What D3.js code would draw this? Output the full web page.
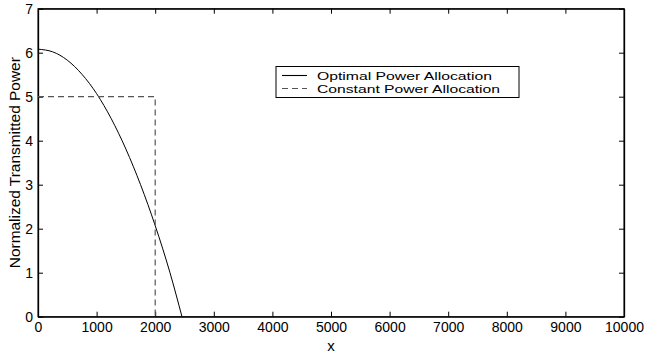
<!DOCTYPE html>
<html><head><meta charset="utf-8">
<script src="https://cdn.jsdelivr.net/npm/d3@7"></script>
<style>body{margin:0;background:#fff}svg{display:block}text{font-family:"Liberation Sans",Arial,sans-serif}</style>
</head><body><svg id="c" width="647" height="356"></svg>
<script>
const optX = [0, 250, 500, 750, 1000, 1250, 1500, 1750, 2000, 2250, 2457];
const optY = [6.08, 6.02, 5.83, 5.51, 5.07, 4.50, 3.81, 3.00, 2.07, 1.01, 0];
const constX = [0, 2000, 2000];
const constY = [5, 5, 0];
const xTicks = [0,1000,2000,3000,4000,5000,6000,7000,8000,9000,10000];
const yTicks = [0,1,2,3,4,5,6,7];
const legendLabels = ["Optimal Power Allocation","Constant Power Allocation"];

const svg = d3.select("#c");
const L=38,R=624,T=8.7,B=316.7;
const x = d3.scaleLinear().domain([0,10000]).range([L,R]);
const y = d3.scaleLinear().domain([0,7]).range([B,T]);

svg.append("rect").attr("x",L).attr("y",T).attr("width",R-L).attr("height",B-T)
  .attr("fill","none").attr("stroke","#000").attr("stroke-width",1);

const fs=14;
const xb = svg.append("g").attr("transform",`translate(0,${B})`)
  .call(d3.axisBottom(x).tickValues(xTicks).tickFormat(d3.format("d")).tickSizeInner(-5).tickSizeOuter(0).tickPadding(5));
const xt = svg.append("g").attr("transform",`translate(0,${T})`)
  .call(d3.axisTop(x).tickValues(xTicks).tickFormat("").tickSizeInner(-5).tickSizeOuter(0));
const yl = svg.append("g").attr("transform",`translate(${L},0)`)
  .call(d3.axisLeft(y).tickValues(yTicks).tickFormat(d3.format("d")).tickSizeInner(-5).tickSizeOuter(0).tickPadding(5));
const yr = svg.append("g").attr("transform",`translate(${R},0)`)
  .call(d3.axisRight(y).tickValues(yTicks).tickFormat("").tickSizeInner(-5).tickSizeOuter(0));
[xb,xt,yl,yr].forEach(g=>{g.select(".domain").attr("stroke","#000").attr("stroke-width",1.3);
  g.selectAll("line").attr("stroke","#000");
  g.selectAll("text").attr("font-size",fs).attr("fill","#000").style("font-family",'"Liberation Sans",Arial,sans-serif');});
xb.selectAll("text").attr("dy","0.72em");

const line = d3.line().x(d=>x(d[0])).y(d=>y(d[1]));
svg.append("path").datum(optX.map((v,i)=>[v,optY[i]])).attr("d",line.curve(d3.curveMonotoneX))
  .attr("fill","none").attr("stroke","#000").attr("stroke-width",1);
svg.append("path").datum(constX.map((v,i)=>[v,constY[i]])).attr("d",d3.line().x(d=>x(d[0])).y(d=>y(d[1])))
  .attr("fill","none").attr("stroke","#555").attr("stroke-width",1.2).attr("stroke-dasharray","6,4");

svg.append("text").attr("x",(L+R)/2).attr("y",351).attr("text-anchor","middle").attr("font-size",15).text("x");
svg.append("text").attr("transform",`translate(20,${(T+B)/2}) rotate(-90)`).attr("text-anchor","middle")
  .attr("font-size",14.5).attr("textLength",211).attr("lengthAdjust","spacingAndGlyphs").text("Normalized Transmitted Power");

const lg = svg.append("g");
lg.append("rect").attr("x",276).attr("y",66.5).attr("width",243).attr("height",31).attr("fill","#fff").attr("stroke","#000").attr("stroke-width",1);
const styles=[{c:"#000",d:null},{c:"#555",d:"6,4"}];
const lens=[175,183];
legendLabels.forEach((t,i)=>{
  const yy=75.5+i*13;
  lg.append("line").attr("x1",282).attr("x2",307).attr("y1",yy).attr("y2",yy).attr("stroke",styles[i].c).attr("stroke-width",1.1).attr("stroke-dasharray",styles[i].d);
  lg.append("text").attr("x",317).attr("y",yy).attr("dy","0.36em").attr("font-size",11.5)
    .attr("textLength",lens[i]).attr("lengthAdjust","spacingAndGlyphs").text(t);
});
</script></body></html>
